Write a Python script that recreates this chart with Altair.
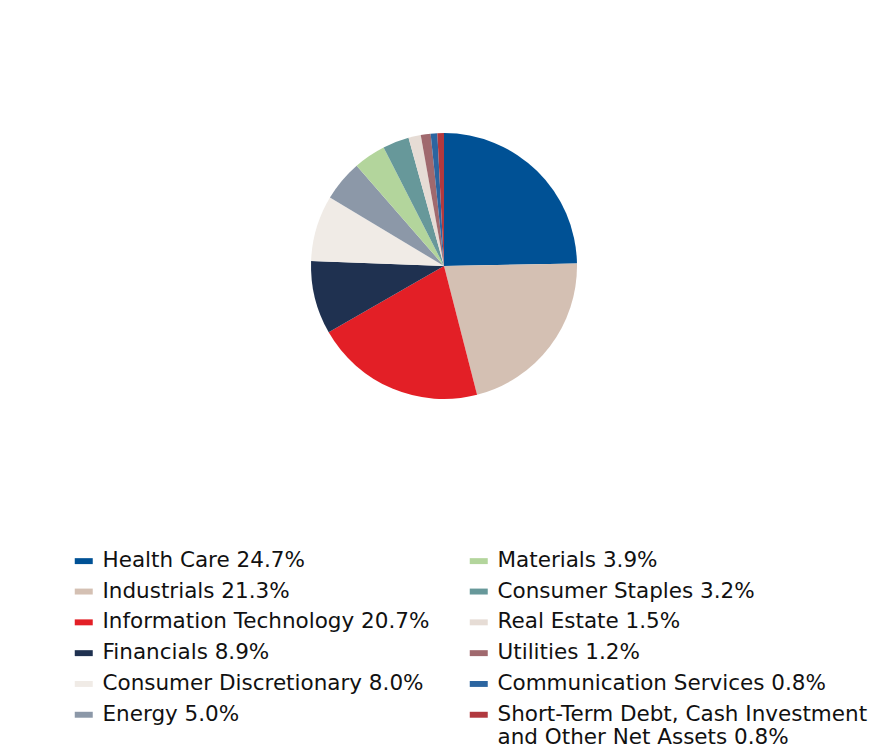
import altair as alt
import pandas as pd

sectors = [
    "Health Care", "Industrials", "Information Technology", "Financials",
    "Consumer Discretionary", "Energy", "Materials", "Consumer Staples",
    "Real Estate", "Utilities", "Communication Services",
    "Short-Term Debt, Cash Investment and Other Net Assets",
]
values = [24.7, 21.3, 20.7, 8.9, 8.0, 5.0, 3.9, 3.2, 1.5, 1.2, 0.8, 0.8]
colors = [
    "#005195", "#D4C0B3", "#E31F26", "#1F3150", "#F0EBE6", "#8C98A8",
    "#B3D59C", "#67989A", "#E6DCD5", "#A0696E", "#2C65A0", "#B1393F",
]

labels = [f"{s} {v:.1f}%" for s, v in zip(sectors, values)]
df = pd.DataFrame({"label": labels, "value": values, "order": list(range(len(values)))})

last = labels[-1]
label_expr = (
    f"datum.label == '{last}' ? "
    "['Short-Term Debt, Cash Investment', 'and Other Net Assets 0.8%'] : datum.label"
)

chart = (
    alt.Chart(df)
    .mark_arc(radius=133)
    .encode(
        theta=alt.Theta("value:Q", stack=True),
        order=alt.Order("order:Q", sort="ascending"),
        color=alt.Color(
            "label:N",
            sort=labels,
            scale=alt.Scale(domain=labels, range=colors),
            legend=alt.Legend(
                title=None,
                orient="none",
                legendX=60,
                legendY=537,
                columns=2,
                columnPadding=38,
                rowPadding=7.8,
                symbolType="M-1,-0.33H1V0.33H-1Z",
                symbolSize=324,
                symbolStrokeWidth=0,
                labelFontSize=21.5,
                labelFont="DejaVu Sans",
                labelColor="#111111",
                labelLimit=0,
                labelOffset=8,
                labelExpr=label_expr,
            ),
        ),
    )
    .properties(width=862, height=506)
    .configure_view(stroke=None)
)

chart.save("out.html", embed_options={"renderer": "svg", "actions": False})
